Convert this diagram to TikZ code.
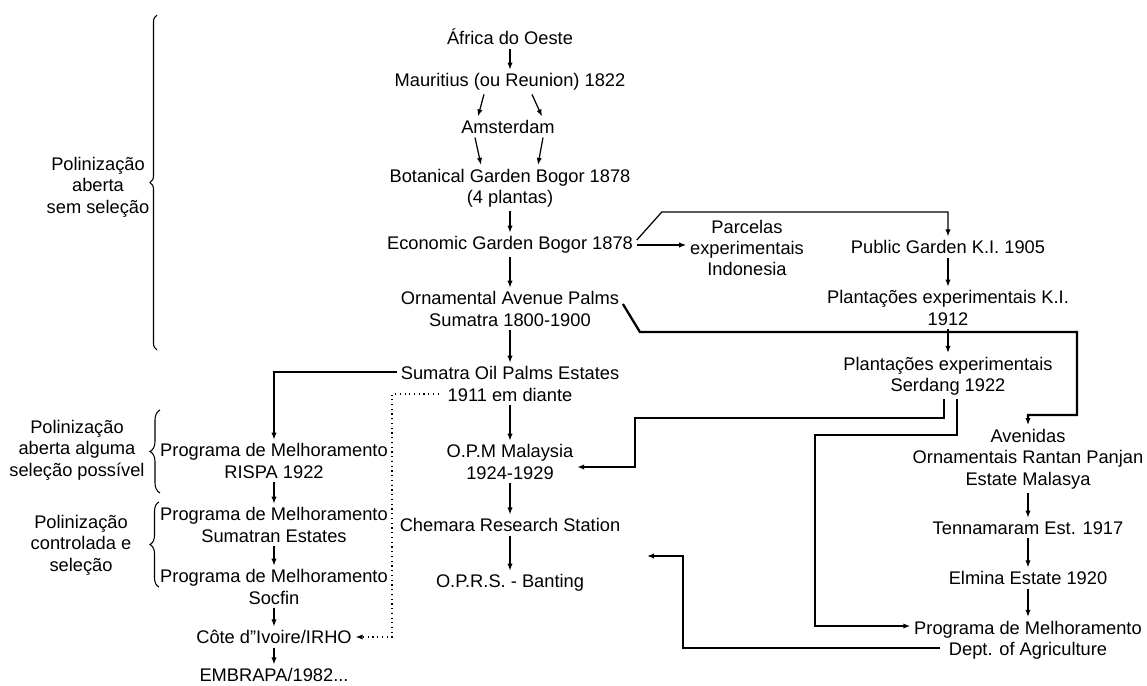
\documentclass[tikz,border=0pt]{standalone}
\usepackage{fontspec}
\setmainfont{Liberation Sans}
\usetikzlibrary{arrows.meta, decorations.pathreplacing}

\begin{document}
\begin{tikzpicture}[
    every node/.style={font=\fontsize{10.4}{12.2}\selectfont, align=center, inner sep=2pt},
    arr/.style={-{Latex[length=4pt, width=3pt]}, line width=0.7pt},
    link/.style={-{Latex[length=4pt, width=3pt]}, line width=1.3pt},
    brc/.style={decorate, decoration={brace, amplitude=#1}, line width=0.6pt}
]
    \useasboundingbox (0, 0) rectangle (22.94, -13.7);

    \node (africa) at (10.2, -0.74) {África do Oeste};
    \node (mauritius) at (10.2, -1.64) {Mauritius (ou Reunion) 1822};
    \node (amsterdam) at (10.16, -2.54) {Amsterdam};
    \node (bogor) at (10.2, -3.76) {Botanical Garden Bogor 1878\\(4 plantas)};
    \node (economic) at (10.2, -4.9) {Economic Garden Bogor 1878};
    \node (parcelas) at (14.94, -4.96) {Parcelas\\experimentais\\Indonesia};
    \node (public) at (18.96, -4.94) {Public Garden K.I. 1905};
    \node (kiplant) at (18.96, -6.16) {Plantações experimentais K.I.\\1912};
    \node (ornamental) at (10.2, -6.18) {Ornamental Avenue Palms\\Sumatra 1800-1900};
    \node (sumatra) at (10.2, -7.68) {Sumatra Oil Palms Estates\\1911 em diante};
    \node (serdang) at (18.96, -7.52) {Plantações experimentais\\Serdang 1922};
    \node (opm) at (10.2, -9.24) {O.P.M Malaysia\\1924-1929};
    \node (chemara) at (10.2, -10.5) {Chemara Research Station};
    \node (oprs) at (10.2, -11.66) {O.P.R.S. - Banting};

    \node (rispa) at (5.48, -9.22) {Programa de Melhoramento\\RISPA 1922};
    \node (sumestates) at (5.48, -10.5) {Programa de Melhoramento\\Sumatran Estates};
    \node (socfin) at (5.48, -11.74) {Programa de Melhoramento\\Socfin};
    \node (cote) at (5.48, -12.74) {Côte d"Ivoire/IRHO};
    \node (embrapa) at (5.48, -13.5) {EMBRAPA/1982...};

    \node (avenidas) at (20.56, -9.18) {Avenidas\\Ornamentais Rantan Panjan\\Estate Malasya};
    \node (tennamaram) at (20.56, -10.56) {Tennamaram Est. 1917};
    \node (elmina) at (20.56, -11.56) {Elmina Estate 1920};
    \node (dept) at (20.56, -12.8) {Programa de Melhoramento\\Dept. of Agriculture};

    \draw[brc=0.14cm] (3.14, -7.0) -- (3.14, -0.3);
    \node (pol1) at (1.96, -3.74) {Polinização\\aberta\\sem seleção};
    \draw[brc=0.2cm] (3.2, -9.86) -- (3.2, -8.2);
    \node (pol2) at (1.54, -9.0) {Polinização\\aberta alguma\\seleção possível};
    \draw[brc=0.18cm] (3.18, -11.74) -- (3.18, -10.04);
    \node (pol3) at (1.62, -10.9) {Polinização\\controlada e\\seleção};

    \draw[arr] (africa) -- (mauritius);
    \draw[arr] ([xshift=-0.52cm]mauritius.south) -- ([xshift=-0.6cm]amsterdam.north);
    \draw[arr] ([xshift=0.44cm]mauritius.south) -- ([xshift=0.68cm]amsterdam.north);
    \draw[arr] ([xshift=-0.66cm]amsterdam.south) -- ([xshift=-0.58cm]bogor.north);
    \draw[arr] ([xshift=0.7cm]amsterdam.south) -- ([xshift=0.56cm]bogor.north);
    \draw[arr] (bogor) -- (economic);
    \draw[arr] (economic) -- (ornamental);
    \draw[arr] (ornamental) -- (sumatra);
    \draw[arr] (sumatra) -- (opm);
    \draw[arr] (opm) -- (chemara);
    \draw[arr] (chemara) -- (oprs);

    \draw[arr] (economic.east) -- (economic.east -| parcelas.west);
    \draw[arr] ([yshift=0.1cm]economic.east) -- ++(0.5, 0.56) -| (public);
    \draw[arr] (public) -- (kiplant);
    \draw[arr] (kiplant) -- (serdang);

    \draw[arr] (rispa) -- (sumestates);
    \draw[arr] (sumestates) -- (socfin);
    \draw[arr] (socfin) -- (cote);
    \draw[arr] (cote) -- (embrapa);

    \draw[arr] (avenidas) -- (tennamaram);
    \draw[arr] (tennamaram) -- (elmina);
    \draw[arr] (elmina) -- (dept);

    \draw[link] ([yshift=0.1cm]ornamental.east) -- ++(0.34, -0.56) -| (21.54, -8.3) -| (avenidas);
    \draw[link] ([xshift=-0.08cm]serdang.south) |- (12.7, -8.36) |- ([yshift=-0.1cm]opm.east);
    \draw[link] ([xshift=0.18cm]serdang.south) |- (16.3, -8.7) |- ([yshift=0.28cm]dept.west);
    \coordinate (bend) at (12.94, -11.12);
    \draw[link] ([xshift=0.6cm, yshift=-0.16cm]dept.west) -| (13.66, -11.12) -- (bend);
    \draw[link] ([yshift=0.24cm]sumatra.west) -| (rispa);
    \draw[arr, dotted] ([xshift=0.84cm, yshift=-0.2cm]sumatra.west) -| (7.84, -12.74) -- (cote);
\end{tikzpicture}
\end{document}
